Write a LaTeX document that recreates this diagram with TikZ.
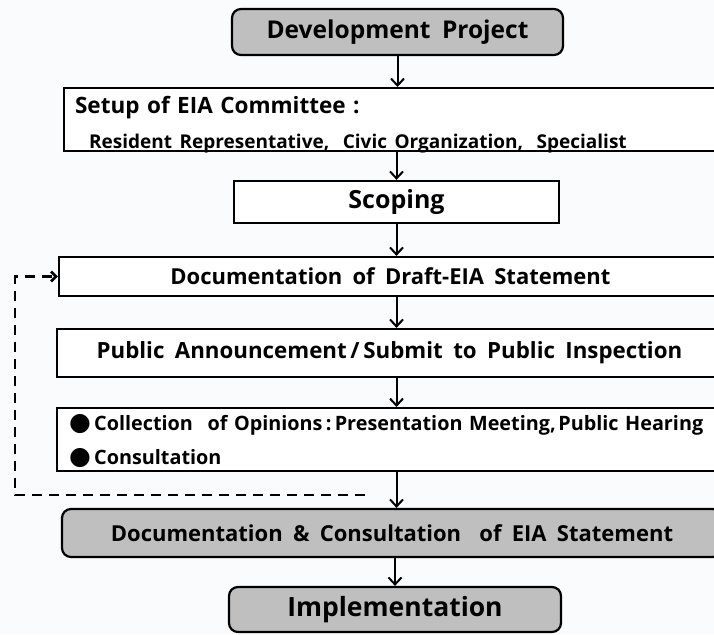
\documentclass[tikz,border=0pt]{standalone}
\usepackage{fontspec}
\setmainfont{Open Sans}[WordSpace=1.8]
\newfontfamily\dotfont{DejaVu Sans}
\usetikzlibrary{arrows.meta}
\definecolor{boxgray}{RGB}{191,191,191}
\definecolor{paper}{RGB}{250,251,253}
\newcommand{\bigdot}{{\dotfont\fontsize{25}{25}\selectfont ●}}

\begin{document}
\begin{tikzpicture}[x=1pt, y=-1pt,
                        line width=2pt,
                        main node/.style={draw, line width=2.2pt, inner sep=0pt, font=\bfseries\fontsize{22}{26}\selectfont},
                        gray node/.style={main node, rounded corners=9pt, fill=boxgray},
                        white node/.style={main node, fill=white},
                        list node/.style={white node, anchor=north west, align=left, inner xsep=11pt},
                        flow arrow/.style={-{Straight Barb[length=7pt, width=13pt]}},
                        back arrow/.style={line width=2.6pt, dash pattern=on 10pt off 7pt, -{Straight Barb[length=5pt, width=10pt]}}]

      \clip (0,0) rectangle (714,634);
      \fill[paper] (0,0) rectangle (714,634);

      \node[gray node, minimum width=331pt, minimum height=46pt, font=\bfseries\fontsize{24.5}{28}\selectfont] (1) at (397.5,32) {Development Project};
      \node[list node, minimum width=659pt, minimum height=63pt, text width=637pt, font=\bfseries\fontsize{22.5}{35}\selectfont] (2) at (63,87)
            {\rule{0pt}{23pt}Setup of EIA Committee :\\
             \hspace*{14pt}\smash{\fontsize{19}{35}\selectfont Resident Representative,\hspace{6pt} Civic Organization,\hspace{6pt} Specialist}};
      \node[white node, minimum width=325pt, minimum height=42pt, font=\bfseries\fontsize{25}{30}\selectfont] (3) at (396.5,202) {Scoping};
      \node[white node, minimum width=663pt, minimum height=39pt] (4) at (390.5,276.5) {Documentation of Draft-EIA Statement};
      \node[white node, minimum width=665pt, minimum height=48pt, font=\bfseries\fontsize{22.3}{26}\selectfont] (5) at (389.5,353) {Public Announcement\,/\,Submit to Public Inspection};
      \node[list node, minimum width=666pt, minimum height=63pt, text width=644pt, inner xsep=12pt, font=\bfseries\fontsize{19.8}{34}\selectfont] (6) at (56,407)
            {\rule{0pt}{19pt}\bigdot\,Collection\hspace{8pt} of Opinions\,:\,Presentation Meeting,\hspace{-4pt} Public Hearing\\
             \bigdot\,Consultation};
      \node[gray node, minimum width=660pt, minimum height=48pt] (7) at (392,533) {Documentation \& Consultation\hspace{8pt} of EIA Statement};
      \node[gray node, minimum width=332pt, minimum height=45pt, font=\bfseries\fontsize{26.5}{30}\selectfont] (8) at (395,609.5) {Implementation};

      \coordinate (a) at (365,495);
      \coordinate (b) at (15,495);

      \draw[flow arrow] (1.south) -- (1.south |- 2.north);
      \draw[flow arrow] (3.north |- 2.south) -- (3.north);
      \draw[flow arrow] (3.south) -- (3.south |- 4.north);
      \draw[flow arrow] (3.south |- 4.south) -- (3.south |- 5.north);
      \draw[flow arrow] (3.south |- 5.south) -- (3.south |- 6.north);
      \draw[flow arrow] (3.south |- 6.south) -- (3.south |- 7.north);
      \draw[flow arrow] (8.north |- 7.south) -- (8.north);
      \draw[back arrow] (a) -- (b) |- (4.west);

    \end{tikzpicture}
\end{document}
